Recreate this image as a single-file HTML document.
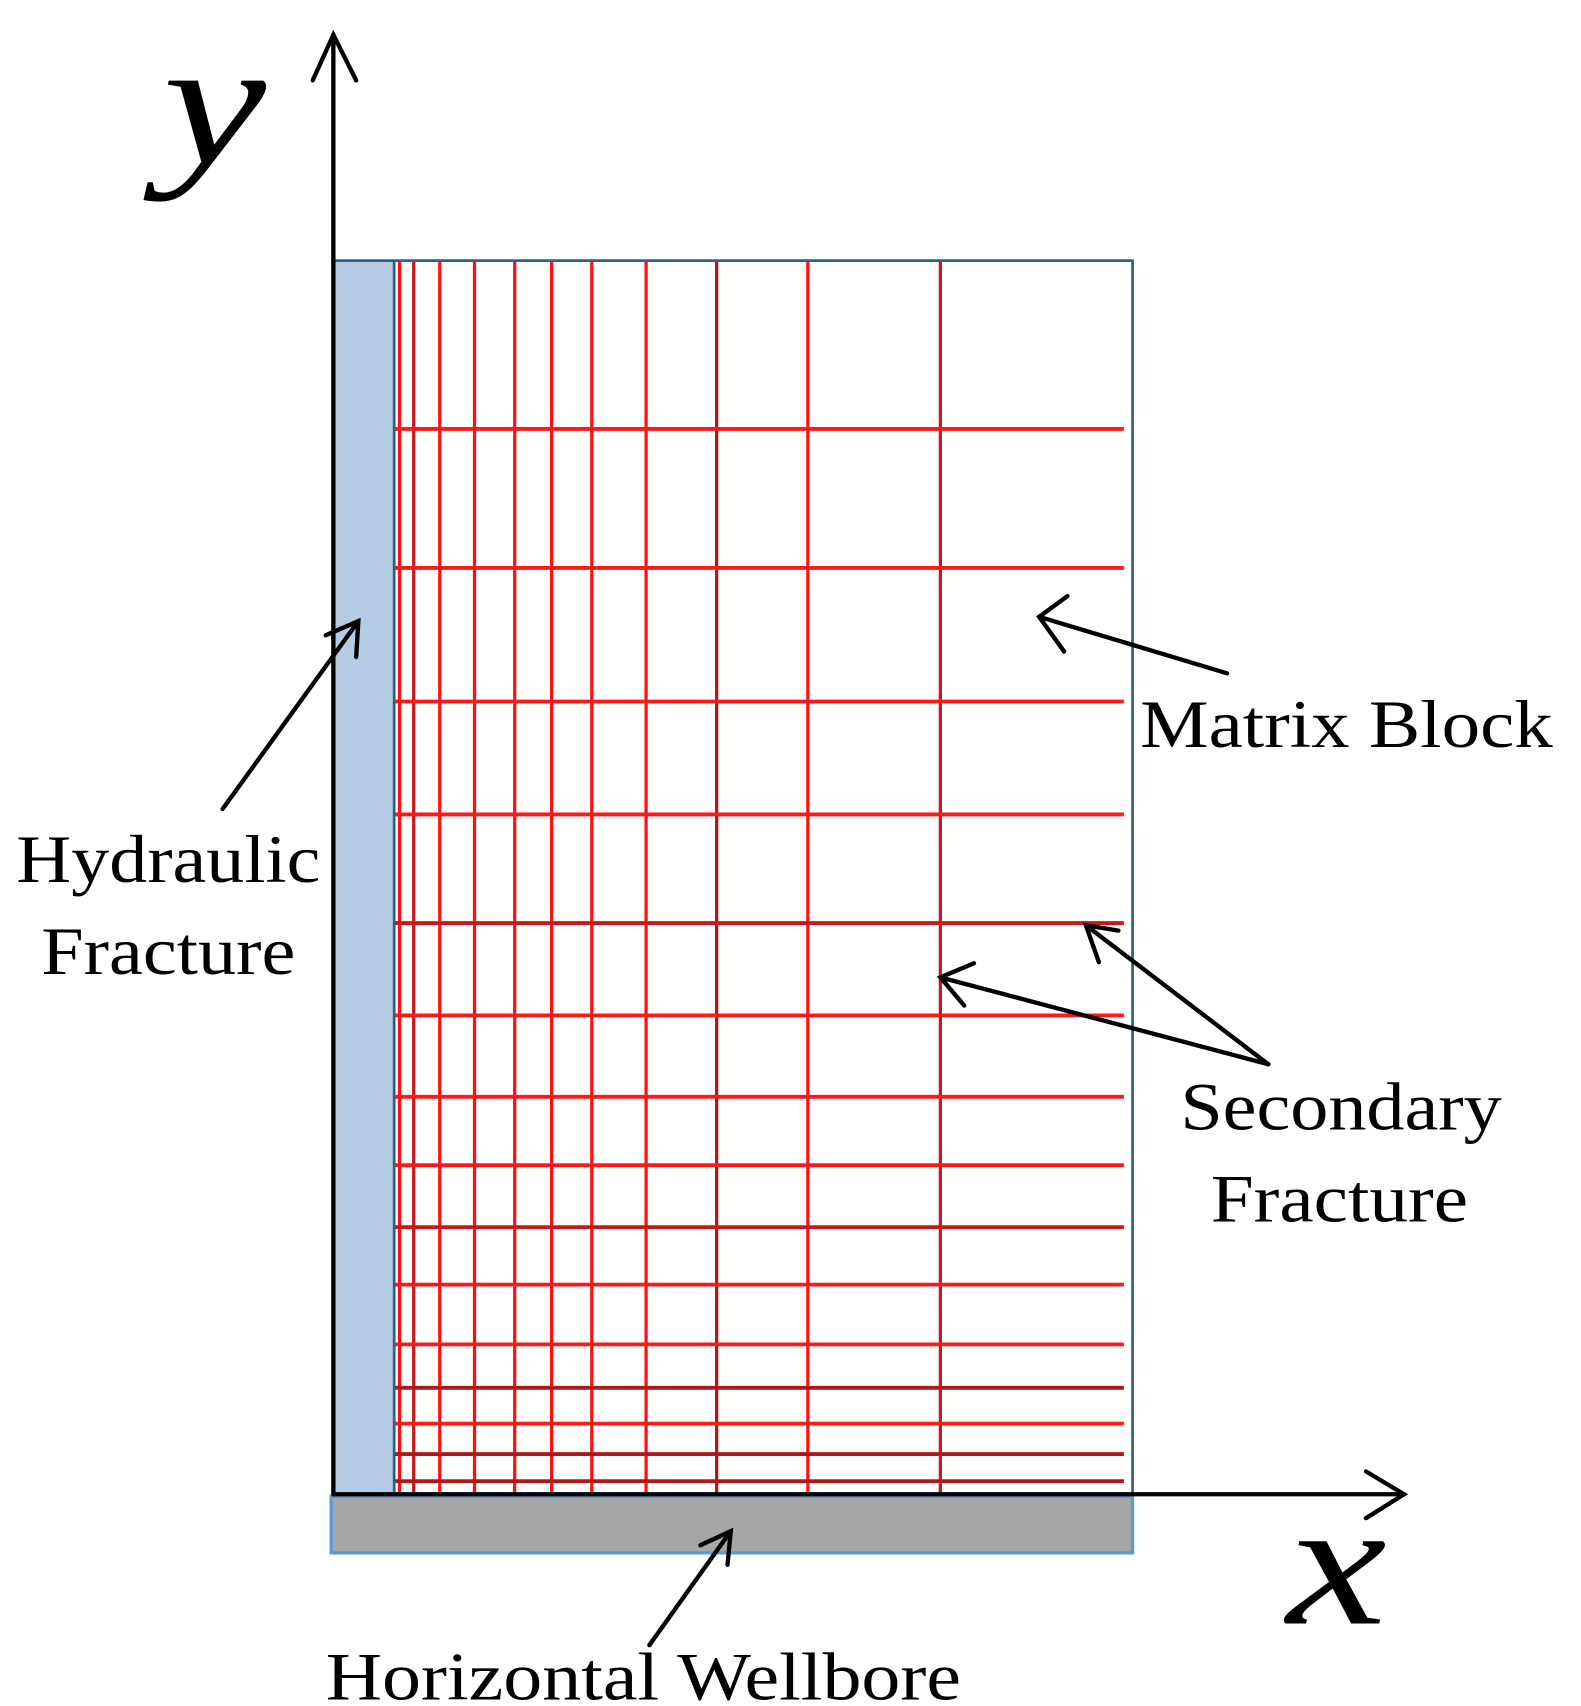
<!DOCTYPE html>
<html><head><style>html,body{margin:0;padding:0;background:#fff}svg{display:block}</style></head>
<body>
<svg width="1581" height="1706" viewBox="0 0 1456 1571" preserveAspectRatio="none" xmlns="http://www.w3.org/2000/svg">
<rect x="307" y="240" width="56" height="1136" fill="#b4cce4"/>
<rect x="305" y="1378" width="738" height="52" fill="#a6a6a6" stroke="#5b9bd5" stroke-width="3"/>
<g stroke="#ff1010" stroke-width="3">
<line x1="368" y1="240" x2="368" y2="1376"/>
<line x1="381" y1="240" x2="381" y2="1376" stroke="#c81818"/>
<line x1="405" y1="240" x2="405" y2="1376"/>
<line x1="437" y1="240" x2="437" y2="1376"/>
<line x1="474" y1="240" x2="474" y2="1376"/>
<line x1="508" y1="240" x2="508" y2="1376"/>
<line x1="545" y1="240" x2="545" y2="1376"/>
<line x1="595" y1="240" x2="595" y2="1376"/>
<line x1="660" y1="240" x2="660" y2="1376" stroke="#b01818"/>
<line x1="744" y1="240" x2="744" y2="1376"/>
<line x1="866" y1="240" x2="866" y2="1376" stroke="#c81818"/>
</g>
<g stroke="#ff1818" stroke-width="3.5">
<line x1="363" y1="395" x2="1035" y2="395"/>
<line x1="363" y1="523" x2="1035" y2="523"/>
<line x1="363" y1="646" x2="1035" y2="646"/>
<line x1="363" y1="750" x2="1035" y2="750"/>
<line x1="363" y1="850" x2="1035" y2="850" stroke="#c81818"/>
<line x1="363" y1="935" x2="1035" y2="935"/>
<line x1="363" y1="1010" x2="1035" y2="1010"/>
<line x1="363" y1="1073" x2="1035" y2="1073"/>
<line x1="363" y1="1130" x2="1035" y2="1130" stroke="#c81818"/>
<line x1="363" y1="1183" x2="1035" y2="1183"/>
<line x1="363" y1="1238" x2="1035" y2="1238"/>
<line x1="363" y1="1278" x2="1035" y2="1278" stroke="#b01818"/>
<line x1="363" y1="1311" x2="1035" y2="1311"/>
<line x1="363" y1="1339" x2="1035" y2="1339" stroke="#b01818"/>
<line x1="363" y1="1364" x2="1035" y2="1364" stroke="#b01818"/>
</g>
<rect x="307" y="240" width="736" height="1136" fill="none" stroke="#2f5f8a" stroke-width="2.5"/>
<line x1="363" y1="240" x2="363" y2="1376" stroke="#2f5f8a" stroke-width="2.5"/>
<g stroke="#000" stroke-width="4" fill="none" stroke-linecap="round">
<line x1="307" y1="1376" x2="307" y2="32"/>
<polyline points="288,74 307,32 328,74"/>
<line x1="307" y1="1376" x2="1293" y2="1376"/>
<polyline points="1258,1355 1293,1376 1258,1398"/>
<line x1="205" y1="745" x2="330" y2="572"/>
<polyline points="300,585 330,572 328,605"/>
<line x1="1130" y1="620" x2="957" y2="568"/>
<polyline points="983,549 957,568 980,600"/>
<line x1="1168" y1="980" x2="866" y2="900"/>
<polyline points="897,887 866,900 888,926"/>
<line x1="1168" y1="980" x2="1000" y2="852"/>
<polyline points="1030,857 1000,852 1012,886"/>
<line x1="598" y1="1515" x2="673" y2="1410"/>
<polyline points="645,1423 673,1410 670,1441"/>
</g>
<g font-family="'Liberation Serif',serif" fill="#000" lengthAdjust="spacingAndGlyphs">
<text x="150" y="150" font-size="165" font-style="italic" textLength="95" lengthAdjust="spacingAndGlyphs">y</text>
<text x="1185" y="1495" font-size="165" font-style="italic" textLength="92" lengthAdjust="spacingAndGlyphs">x</text>
<text x="1050" y="688" font-size="62" textLength="380" lengthAdjust="spacingAndGlyphs">Matrix Block</text>
<text x="15" y="812" font-size="62" textLength="280" lengthAdjust="spacingAndGlyphs">Hydraulic</text>
<text x="38" y="897" font-size="62" textLength="234" lengthAdjust="spacingAndGlyphs">Fracture</text>
<text x="1087" y="1040" font-size="62" textLength="296" lengthAdjust="spacingAndGlyphs">Secondary</text>
<text x="1115" y="1125" font-size="62" textLength="237" lengthAdjust="spacingAndGlyphs">Fracture</text>
<text x="300" y="1565" font-size="62" textLength="585" lengthAdjust="spacingAndGlyphs">Horizontal Wellbore</text>
</g>
</svg>
</body></html>
